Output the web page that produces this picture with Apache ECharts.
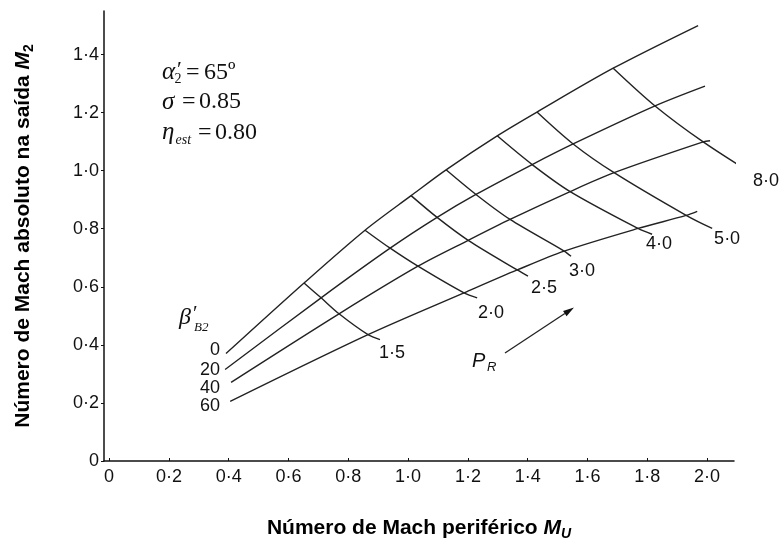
<!DOCTYPE html>
<html>
<head>
<meta charset="utf-8">
<script src="https://cdn.jsdelivr.net/npm/echarts@6/dist/echarts.min.js"></script>
<style>
  html, body { margin: 0; padding: 0; background: #ffffff; }
  #chart { width: 782px; height: 546px; }
</style>
</head>
<body>
<div id="chart"></div>
<script>
// Compressor exit Mach number M2 against peripheral Mach number MU,
// for blade exit angles β′B2 and pressure ratios PR.
const betaLevels = [0, 20, 40, 60];
const prLevels = [1.5, 2.0, 2.5, 3.0, 4.0, 5.0, 8.0];

// Each β′B2 curve: [MU, M2] at its left end, at its crossing with every PR line
// (null where there is none), and at its right end.
const beta0Curve  = [[0.391, 0.370], [0.652, 0.613], [0.856, 0.795], [1.010, 0.914], [1.127, 1.003], [1.298, 1.120], [1.431, 1.202], [1.686, 1.353], [1.970, 1.500]];
const beta20Curve = [[0.388, 0.315], [0.709, 0.562], [0.940, 0.733], [1.097, 0.839], [1.227, 0.918], [1.415, 1.021], [1.552, 1.092], [1.826, 1.223], [1.993, 1.291]];
const beta40Curve = [[0.408, 0.271], [0.769, 0.507], [1.033, 0.671], [1.201, 0.760], [1.341, 0.832], [1.542, 0.928], [1.689, 0.993], [1.987, 1.099], [2.010, 1.103]];
const beta60Curve = [[0.405, 0.205], [0.866, 0.435], [1.187, 0.579], [1.365, 0.658], [1.522, 0.723], [1.769, 0.801], [1.930, 0.846], null, [1.967, 0.860]];

// Where each PR line stops, past its last β′B2 crossing.
const prTail = [[0.906, 0.418], [1.231, 0.562], [1.401, 0.637], [1.545, 0.705], [1.816, 0.781], [2.017, 0.801], [2.140, 0.997]];

const xTicks = [0, 0.2, 0.4, 0.6, 0.8, 1.0, 1.2, 1.4, 1.6, 1.8, 2.0];
const yTicks = [0, 0.2, 0.4, 0.6, 0.8, 1.0, 1.2, 1.4];

const SANS = "'Liberation Sans', Arial, Helvetica, sans-serif";
const SERIF = "'Liberation Serif', 'Times New Roman', serif";
const INK = '#111111';
const CURVE = '#222222';

// Label placement (pixels from the labelled point)
const betaLabelPos = [[-6, -3], [-5, 1], [-11, 6], [-10, 5]];
const prLabelPos = [[12, 13], [14, 15], [16, 12], [11, 15], [7, 10], [15, 11], [17, 10]];

const fmt = v => (v === 0 ? '0' : v.toFixed(1).replace('.', '·'));

const lineBase = {
  type: 'line',
  symbol: 'none',
  showSymbol: true,
  smooth: 0.3,
  clip: false,
  silent: true,
  lineStyle: { color: CURVE, width: 1.4 },
  z: 3
};

function labelledPoint(p, text, pos, align) {
  return {
    value: p,
    symbol: 'circle',
    symbolSize: 0.1,
    itemStyle: { color: 'rgba(0,0,0,0)' },
    label: {
      show: true,
      formatter: text,
      position: pos,
      align: align,
      verticalAlign: 'middle',
      fontFamily: SANS,
      fontSize: 18,
      color: INK
    }
  };
}

const betaCurves = [beta0Curve, beta20Curve, beta40Curve, beta60Curve];
const series = [];

betaCurves.forEach((curve, k) => {
  const pts = curve.filter(p => p);
  series.push(Object.assign({}, lineBase, {
    name: 'β′B2 = ' + betaLevels[k],
    data: pts.map((p, i) => i === 0
      ? labelledPoint(p, String(betaLevels[k]), betaLabelPos[k], 'right')
      : p)
  }));
});

prLevels.forEach((pr, i) => {
  const pts = betaCurves.map(c => c[i + 1]).filter(p => p);
  pts.push(prTail[i]);
  series.push(Object.assign({}, lineBase, {
    name: 'PR = ' + pr,
    data: pts.map((p, j) => j === pts.length - 1
      ? labelledPoint(p, fmt(pr), prLabelPos[i], 'center')
      : p)
  }));
});

function txt(x, y, s, font, align) {
  return {
    type: 'text', x: x, y: y, silent: true, z: 10,
    style: {
      text: s, font: font, fill: INK,
      align: align || 'left', verticalAlign: 'middle',
      textAlign: align || 'left', textVerticalAlign: 'middle'
    }
  };
}

const mathBig = 'italic 25px ' + SERIF;
const mathNum = '24px ' + SERIF;

// Arrow pointing along increasing PR
const arrowFrom = [505, 353], arrowTo = [574, 307.5];
const adx = arrowTo[0] - arrowFrom[0], ady = arrowTo[1] - arrowFrom[1];
const alen = Math.hypot(adx, ady), ux = adx / alen, uy = ady / alen;
const headL = 11, headW = 3.2;
const bx = arrowTo[0] - ux * headL, by = arrowTo[1] - uy * headL;

const graphics = [
  // operating conditions
  txt(162, 72.5, 'α', mathBig),
  txt(177, 70, '′', '22px ' + SERIF),
  txt(174.5, 79, '2', '14px ' + SERIF),
  txt(186, 72.5, '=', mathNum),
  txt(204, 72.5, '65º', mathNum),

  txt(162, 102, 'σ', mathBig),
  txt(182, 102, '=', mathNum),
  txt(199, 102, '0.85', mathNum),

  txt(162, 132.5, 'η', mathBig),
  txt(175.5, 140.5, 'est', 'italic 14px ' + SERIF),
  txt(198, 132.5, '=', mathNum),
  txt(215, 132.5, '0.80', mathNum),

  // family label for the β′B2 curves
  txt(179, 318, 'β', 'italic 24px ' + SERIF),
  txt(193, 314, '′', '21px ' + SERIF),
  txt(194, 327.5, 'B2', 'italic 13px ' + SERIF),

  // pressure ratio direction
  txt(472, 361, 'P', 'italic 20px ' + SANS),
  txt(487, 367.5, 'R', 'italic 13px ' + SANS),
  {
    type: 'line', silent: true, z: 10,
    shape: { x1: arrowFrom[0], y1: arrowFrom[1], x2: bx, y2: by },
    style: { stroke: CURVE, lineWidth: 1.3 }
  },
  {
    type: 'polygon', silent: true, z: 10,
    shape: { points: [arrowTo, [bx - uy * headW, by + ux * headW], [bx + uy * headW, by - ux * headW]] },
    style: { fill: '#111111' }
  }
];

const axisLineStyle = { color: '#111111', width: 1.5 };

const titleRich = {
  b: { fontFamily: SANS, fontWeight: 'bold', fontSize: 21, lineHeight: 25, color: '#000' },
  i: { fontFamily: SANS, fontWeight: 'bold', fontStyle: 'italic', fontSize: 21, lineHeight: 25, color: '#000' },
  s: { fontFamily: SANS, fontWeight: 'bold', fontStyle: 'italic', fontSize: 14, lineHeight: 14, padding: [11, 0, 0, 0], color: '#000' },
  n: { fontFamily: SANS, fontWeight: 'bold', fontSize: 14, lineHeight: 14, padding: [11, 0, 0, 0], color: '#000' }
};

const option = {
  animation: false,
  backgroundColor: '#ffffff',
  grid: { left: 104, right: 48, top: 11, bottom: 82 },
  xAxis: {
    type: 'value',
    min: -0.017,
    max: 2.09,
    axisLine: { show: true, onZero: false, lineStyle: axisLineStyle },
    axisTick: { show: true, inside: true, length: 3, customValues: xTicks, lineStyle: { color: '#111111' } },
    axisLabel: { customValues: xTicks, formatter: fmt, fontFamily: SANS, fontSize: 18, color: INK, margin: 7 },
    splitLine: { show: false },
    name: '{b|Número de Mach periférico }{i|M}{s|U}',
    nameLocation: 'middle',
    nameGap: 55,
    nameTextStyle: { rich: titleRich }
  },
  yAxis: {
    type: 'value',
    min: 0,
    max: 1.55,
    axisLine: { show: true, onZero: false, lineStyle: axisLineStyle },
    axisTick: { show: true, inside: false, length: 3, customValues: yTicks, lineStyle: { color: '#111111' } },
    axisLabel: { customValues: yTicks, formatter: fmt, fontFamily: SANS, fontSize: 18, color: INK, margin: 5 },
    splitLine: { show: false },
    name: '{b|Número de Mach absoluto na saída }{i|M}{n|2}',
    nameLocation: 'middle',
    nameRotate: 90,
    nameGap: 68,
    nameTextStyle: { rich: titleRich }
  },
  series: series,
  graphic: graphics
};

const chart = echarts.init(document.getElementById('chart'), null, { renderer: 'canvas' });
chart.setOption(option);
</script>
</body>
</html>
